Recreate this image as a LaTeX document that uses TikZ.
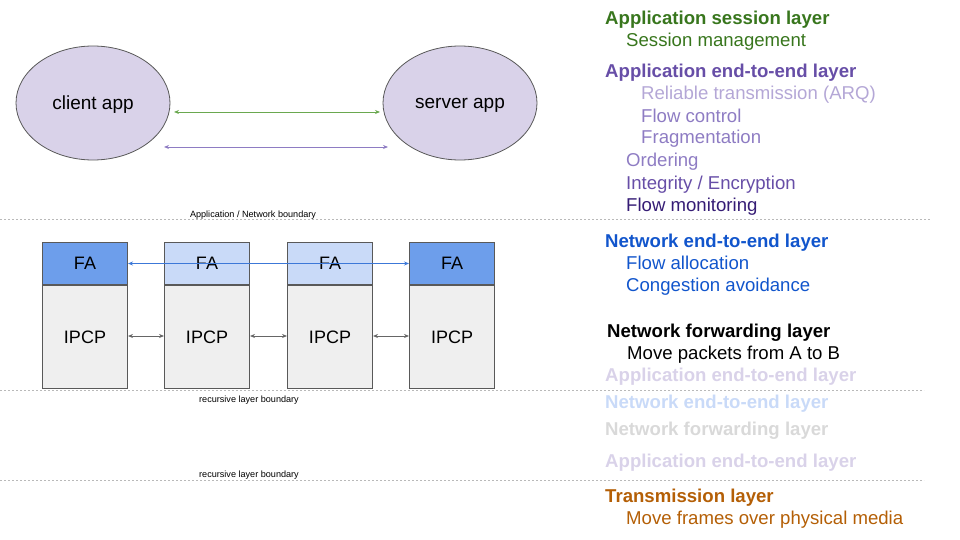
\documentclass[tikz,border=0pt]{standalone}
\usepackage{fontspec}
\setmainfont{Liberation Sans}
\usetikzlibrary{arrows.meta,shapes.geometric}
\definecolor{cgreen}{HTML}{38761D}
\definecolor{cpurple}{HTML}{674EA7}
\definecolor{cpurpleL}{HTML}{B4A7D6}
\definecolor{cpurpleM}{HTML}{8E7CC3}
\definecolor{cpurpleD}{HTML}{351C75}
\definecolor{cblue}{HTML}{1155CC}
\definecolor{cfadeP}{HTML}{D9D2E9}
\definecolor{cfadeB}{HTML}{C9DAF8}
\definecolor{cfadeG}{HTML}{D9D9D9}
\definecolor{corange}{HTML}{B45F06}
\definecolor{faDark}{HTML}{6D9EEB}
\definecolor{faLight}{HTML}{C9DAF8}
\definecolor{ipcpFill}{HTML}{EFEFEF}
\definecolor{edge}{HTML}{595959}
\definecolor{arrGreen}{HTML}{6AA84F}
\definecolor{arrPurple}{HTML}{8E7CC3}
\definecolor{arrBlue}{HTML}{3C78D8}
\definecolor{arrGray}{HTML}{666666}
\begin{document}
\begin{tikzpicture}[x=1pt,y=-1pt,
  app/.style={ellipse,draw=edge,line width=0.8pt,fill=cfadeP,minimum width=154pt,minimum height=114pt,text depth=0pt,font=\fontsize{19}{22}\selectfont},
  fabox/.style={rectangle,draw=edge,line width=1pt,minimum width=85pt,minimum height=42pt,font=\fontsize{18}{20}\selectfont,inner sep=0},
  ipcpbox/.style={rectangle,draw=edge,line width=1pt,fill=ipcpFill,minimum width=85pt,minimum height=103pt,font=\fontsize{18}{20}\selectfont,inner sep=0},
  lay/.style={anchor=base west,inner sep=0,font=\fontsize{18.6}{22}\selectfont},
  layb/.style={lay,font=\fontsize{18.6}{22}\selectfont\bfseries},
  small/.style={anchor=base,inner sep=0,font=\fontsize{9.1}{10}\selectfont},
  bnd/.style={draw=gray!55,line width=0.7pt,dash pattern=on 2pt off 2pt},
  biarrow/.style={{Stealth[length=5pt,width=4pt]}-{Stealth[length=5pt,width=4pt]},line width=0.9pt}
]
\useasboundingbox (0,0) rectangle (960,540);

% ellipses
\node[app] (client) at (93,103) {client app};
\node[app] (server) at (460,103) {server app};
\coordinate (g1) at (174,112);
\coordinate (g2) at (380,112);
\coordinate (p1) at (164,147);
\coordinate (p2) at (388,147);
\draw[biarrow,arrGreen] (g1) -- (g2);
\draw[biarrow,arrPurple] (p1) -- (p2);

% boundaries
\coordinate (b1s) at (0,219.5); \coordinate (b1e) at (930,219.5);
\coordinate (b2s) at (0,390); \coordinate (b2e) at (924,390);
\coordinate (b3s) at (0,480); \coordinate (b3e) at (924,480);
\draw[bnd] (b1s) -- (b1e);
\draw[bnd] (b2s) -- (b2e);
\draw[bnd] (b3s) -- (b3e);
\node[small] (lb1) at (253,217) {Application / Network boundary};
\node[small] (lb2) at (249,402) {recursive layer boundary};
\node[small] (lb3) at (249,477) {recursive layer boundary};

% boxes
\node[fabox,fill=faDark,anchor=north west] (fa1) at (42,242) {FA};
\node[fabox,fill=faLight,anchor=north west] (fa2) at (164,242) {FA};
\node[fabox,fill=faLight,anchor=north west] (fa3) at (287,242) {FA};
\node[fabox,fill=faDark,anchor=north west] (fa4) at (409,242) {FA};
\node[ipcpbox,anchor=north west] (ip1) at (fa1.south west) {IPCP};
\node[ipcpbox,anchor=north west] (ip2) at (fa2.south west) {IPCP};
\node[ipcpbox,anchor=north west] (ip3) at (fa3.south west) {IPCP};
\node[ipcpbox,anchor=north west] (ip4) at (fa4.south west) {IPCP};

\draw[biarrow,arrBlue,line width=0.9pt] (fa1.east) -- (fa4.west);
\draw[biarrow,arrGray,line width=0.8pt] (ip1.east |- 0,336) -- (ip2.west |- 0,336);
\draw[biarrow,arrGray,line width=0.8pt] (ip2.east |- 0,336) -- (ip3.west |- 0,336);
\draw[biarrow,arrGray,line width=0.8pt] (ip3.east |- 0,336) -- (ip4.west |- 0,336);

% right column
\node[layb,text=cgreen] (t1) at (605,25) {Application session layer};
\node[lay,text=cgreen] (t2) at (626,46.7) {Session management};
\node[layb,text=cpurple] (t3) at (605,77.3) {Application end-to-end layer};
\node[lay,text=cpurpleL] (t4) at (641,100) {Reliable transmission (ARQ)};
\node[lay,text=cpurpleM] (t5) at (641,122.7) {Flow control};
\node[lay,text=cpurpleM] (t6) at (641,144) {Fragmentation};
\node[lay,text=cpurpleM] (t7) at (626,166.7) {Ordering};
\node[lay,text=cpurple] (t8) at (626,189.3) {Integrity / Encryption};
\node[lay,text=cpurpleD] (t9) at (626,211.7) {Flow monitoring};
\node[layb,text=cblue] (t10) at (605,247.7) {Network end-to-end layer};
\node[lay,text=cblue] (t11) at (626,269.3) {Flow allocation};
\node[lay,text=cblue] (t12) at (626,291.7) {Congestion avoidance};
\node[layb,text=black] (t13) at (607,337.7) {Network forwarding layer};
\node[lay,text=black] (t14) at (627,359.3) {Move packets from A to B};
\node[layb,text=cfadeP] (t15) at (605,381.7) {Application end-to-end layer};
\node[layb,text=cfadeB] (t16) at (605,408.3) {Network end-to-end layer};
\node[layb,text=cfadeG] (t17) at (605,435) {Network forwarding layer};
\node[layb,text=cfadeP] (t18) at (605,467.7) {Application end-to-end layer};
\node[layb,text=corange] (t19) at (605,502.3) {Transmission layer};
\node[lay,text=corange] (t20) at (626,524) {Move frames over physical media};
\end{tikzpicture}
\end{document}
